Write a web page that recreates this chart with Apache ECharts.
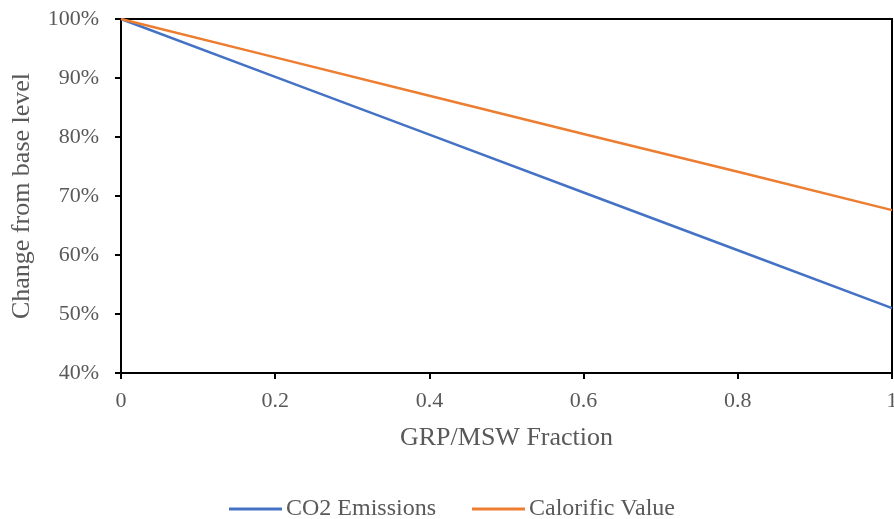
<!DOCTYPE html>
<html>
<head>
<meta charset="utf-8">
<script src="https://cdn.jsdelivr.net/npm/echarts@6/dist/echarts.min.js"></script>
<style>
  html, body { margin: 0; padding: 0; background: #fff; }
  #chart { width: 894px; height: 519px; }
</style>
</head>
<body>
<div id="chart"></div>
<script>
// GRP share in the mixed feed (fraction of MSW replaced)
const fractions = [0, 0.2, 0.4, 0.6, 0.8, 1];
// Change relative to the base level, in percent
const co2Emissions = [100, 90.2, 80.4, 70.6, 60.8, 51.0];
const calorificValue = [100, 93.5, 87.0, 80.5, 74.1, 67.6];
const seriesNames = ['CO2 Emissions', 'Calorific Value'];

const font = 'Liberation Serif, Times New Roman, serif';
const textGray = '#595959';

const chart = echarts.init(document.getElementById('chart'));
chart.setOption({
  animation: false,
  grid: {
    left: 121, right: 2, top: 19, bottom: 146,
    show: true, borderColor: '#000', borderWidth: 2,
    containLabel: false, outerBoundsMode: 'none'
  },
  legend: {
    top: 492,
    left: 224,
    itemWidth: 53,
    itemHeight: 3,
    itemGap: 36,
    icon: 'rect',
    textStyle: { fontFamily: font, fontSize: 24, color: textGray, padding: [0, 0, 0, -1] },
    data: seriesNames
  },
  xAxis: {
    type: 'value',
    min: 0, max: 1, interval: 0.2,
    name: 'GRP/MSW Fraction',
    nameLocation: 'middle',
    nameGap: 52,
    nameTextStyle: { fontFamily: font, fontSize: 26, color: textGray },
    axisLine: { show: true, lineStyle: { color: '#000', width: 2 } },
    axisTick: { show: true, length: 6, lineStyle: { color: '#000', width: 2 } },
    axisLabel: { fontFamily: font, fontSize: 22, color: textGray, margin: 17 },
    splitLine: { show: false }
  },
  yAxis: {
    type: 'value',
    min: 40, max: 100, interval: 10,
    name: 'Change from base level',
    nameLocation: 'middle',
    nameGap: 86,
    nameTextStyle: { fontFamily: font, fontSize: 26, color: textGray },
    axisLine: { show: true, lineStyle: { color: '#000', width: 2 } },
    axisTick: { show: true, length: 6, lineStyle: { color: '#000', width: 2 } },
    axisLabel: { fontFamily: font, fontSize: 22, color: textGray, margin: 22, formatter: v => v + '%' },
    splitLine: { show: false }
  },
  series: [
    {
      name: seriesNames[0],
      type: 'line',
      data: fractions.map((x, i) => [x, co2Emissions[i]]),
      showSymbol: false,
      lineStyle: { color: '#4472C4', width: 2.5 },
      itemStyle: { color: '#4472C4' }
    },
    {
      name: seriesNames[1],
      type: 'line',
      data: fractions.map((x, i) => [x, calorificValue[i]]),
      showSymbol: false,
      lineStyle: { color: '#ED7D31', width: 2.5 },
      itemStyle: { color: '#ED7D31' }
    }
  ]
});
</script>
</body>
</html>
